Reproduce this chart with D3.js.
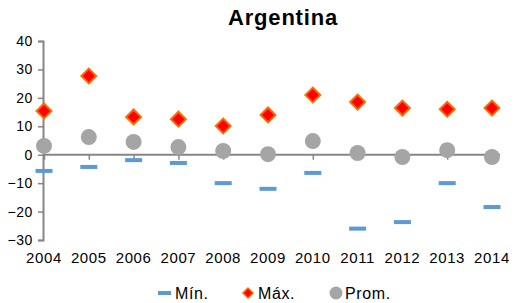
<!DOCTYPE html>
<html>
<head>
<meta charset="utf-8">
<script src="https://cdn.jsdelivr.net/npm/d3@7"></script>
<style>
  body { margin: 0; background: #fff; }
  text { font-family: "Liberation Sans", Arial, sans-serif; }
</style>
</head>
<body>
<div id="chart"></div>
<script>
// Argentina: min / max / average per year

const years = ["2004", "2005", "2006", "2007", "2008", "2009", "2010", "2011", "2012", "2013", "2014"];
const minVals = [-5.7, -4.3, -1.9, -2.9, -10, -12, -6.4, -26, -23.7, -10, -18.4];
const maxVals = [15.4, 27.7, 13.3, 12.5, 10.1, 14, 21, 18.5, 16.4, 16, 16.4];
const promVals = [3.1, 6.2, 4.5, 2.7, 1.3, 0.2, 4.8, 0.6, -0.8, 1.6, -0.8];
const yTicks = [40, 30, 20, 10, 0, -10, -20, -30];

const width = 514, height = 303;
const axisColor = "#868686";

const svg = d3.select("#chart")
  .append("svg")
  .attr("width", width)
  .attr("height", height);

const x = d3.scalePoint()
  .domain(years)
  .range([44, 492]);

const y = d3.scaleLinear()
  .domain([-30, 40])
  .range([240, 41]);

// title
svg.append("text")
  .attr("x", 283)
  .attr("y", 25)
  .attr("text-anchor", "middle")
  .style("font-size", "22px")
  .style("font-weight", "bold")
  .style("letter-spacing", "0.8px")
  .text("Argentina");

// y axis
const yAxis = svg.append("g")
  .attr("transform", "translate(43,0)")
  .call(d3.axisLeft(y).tickValues(yTicks).tickSize(5).tickPadding(5).tickFormat(d3.format("d")));
yAxis.select(".domain").attr("stroke", axisColor).attr("stroke-width", 2);
yAxis.selectAll(".tick line").attr("stroke", axisColor).attr("stroke-width", 1.5);
yAxis.selectAll(".tick text")
  .attr("fill", "#000")
  .style("font-size", "14px")
  .style("letter-spacing", "0.6px")
  .style("font-family", "Liberation Sans, Arial, sans-serif");

// zero line with category ticks
const xAxis = svg.append("g")
  .attr("transform", `translate(0,${y(0)})`)
  .call(d3.axisBottom(x).tickSize(5).tickFormat(""));
xAxis.select(".domain")
  .attr("d", `M43,0H500`)
  .attr("stroke", axisColor).attr("stroke-width", 2);
xAxis.selectAll(".tick line").attr("stroke", axisColor).attr("stroke-width", 1.5);

// year labels along the bottom
svg.append("g")
  .selectAll("text")
  .data(years)
  .join("text")
    .attr("x", d => x(d))
    .attr("y", 263)
    .attr("text-anchor", "middle")
    .style("font-size", "15px")
    .style("letter-spacing", "0.6px")
    .text(d => d);

// min dashes
svg.append("g")
  .selectAll("rect")
  .data(minVals)
  .join("rect")
    .attr("x", (d, i) => x(years[i]) - 8.5)
    .attr("y", d => y(d) - 2)
    .attr("width", 17)
    .attr("height", 4)
    .attr("fill", "#5b9bd5");

// average circles
svg.append("g")
  .selectAll("circle")
  .data(promVals)
  .join("circle")
    .attr("cx", (d, i) => x(years[i]))
    .attr("cy", d => y(d))
    .attr("r", 8)
    .attr("fill", "#a5a5a5");

// max diamonds
const diamond = d3.symbol().type(d3.symbolSquare).size(110);
svg.append("g")
  .selectAll("path")
  .data(maxVals)
  .join("path")
    .attr("d", diamond)
    .attr("transform", (d, i) => `translate(${x(years[i])},${y(d)}) rotate(45)`)
    .attr("fill", "#ff0000")
    .attr("stroke", "#ff6a00")
    .attr("stroke-width", 2);

// legend
const lg = svg.append("g").attr("transform", "translate(0,293)");
lg.append("rect").attr("x", 158).attr("y", -2).attr("width", 13).attr("height", 4).attr("fill", "#5b9bd5");
lg.append("text").attr("x", 175).attr("y", 6).style("font-size", "16px").style("letter-spacing", "0.6px").text("Mín.");
lg.append("path").attr("d", d3.symbol().type(d3.symbolSquare).size(50))
  .attr("transform", "translate(248,0) rotate(45)")
  .attr("fill", "#ff0000").attr("stroke", "#ff6a00").attr("stroke-width", 1.5);
lg.append("text").attr("x", 258).attr("y", 6).style("font-size", "16px").style("letter-spacing", "0.6px").text("Máx.");
lg.append("circle").attr("cx", 336).attr("cy", 0).attr("r", 6.5).attr("fill", "#a5a5a5");
lg.append("text").attr("x", 345).attr("y", 6).style("font-size", "16px").style("letter-spacing", "0.6px").text("Prom.");
</script>
</body>
</html>
